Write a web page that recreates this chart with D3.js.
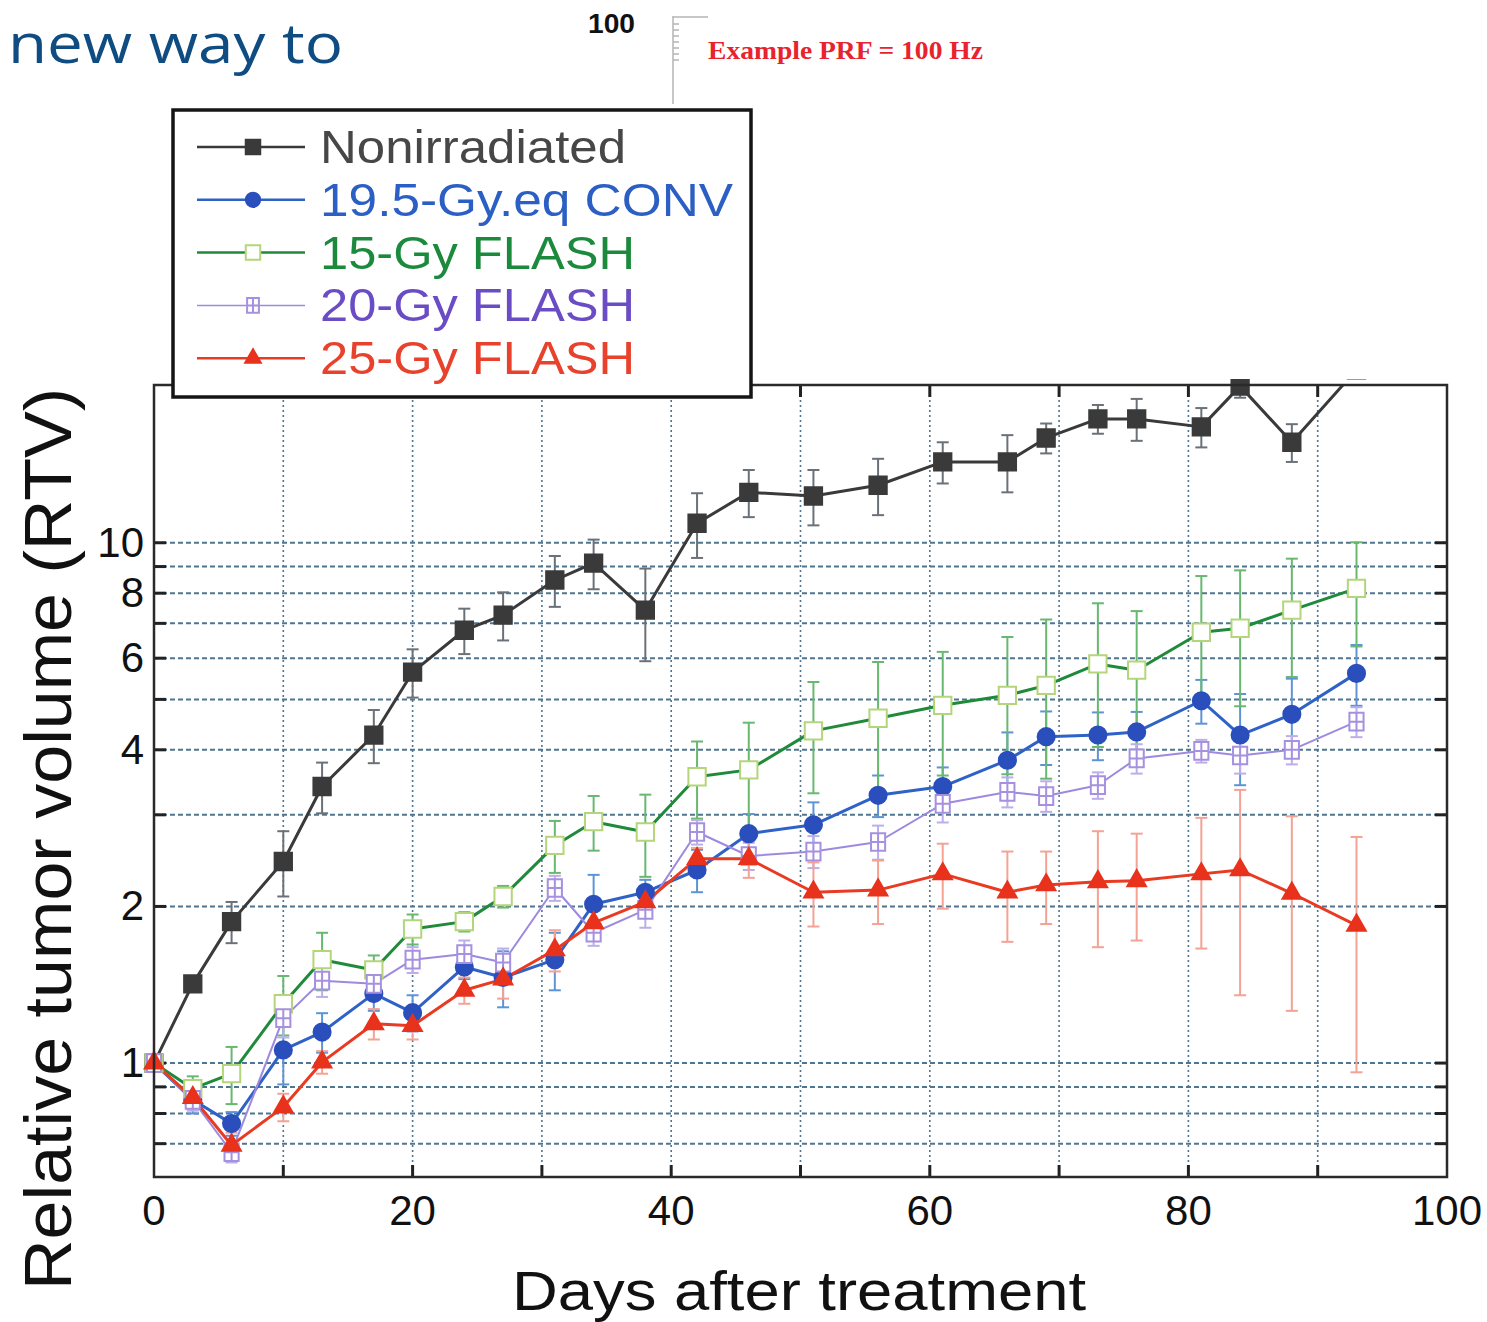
<!DOCTYPE html>
<html>
<head>
<meta charset="utf-8">
<script src="https://cdn.jsdelivr.net/npm/d3@7"></script>
<style>
  body { margin: 0; background: #fff; }
  svg { display: block; }
</style>
</head>
<body>
<div id="chart"></div>
<script>
// dados (dias após o tratamento, RTV média e erro)
const days = [0, 3, 6, 10, 13, 17, 20, 24, 27, 31, 34, 38, 42, 46, 51, 56, 61, 66, 69, 73, 76, 81, 84, 88, 93];

const nonirradiated = [1.0, 1.42, 1.87, 2.44, 3.40, 4.27, 5.64, 6.79, 7.26, 8.48, 9.14, 7.42, 10.9, 12.5, 12.3, 12.9, 14.3, 14.3, 15.9, 17.3, 17.3, 16.7, 20.0, 15.6, 21.5];
const nonirradiatedErr = [0, 0.05, 0.17, 0.35, 0.38, 0.5, 0.6, 0.68, 0.77, 0.95, 1.0, 1.5, 1.55, 1.3, 1.5, 1.6, 1.3, 1.8, 1.05, 1.1, 1.6, 1.45, 1.0, 1.3, 0.9];

const conv195 = [1.0, 0.85, 0.765, 1.06, 1.147, 1.36, 1.25, 1.53, 1.46, 1.58, 2.02, 2.13, 2.35, 2.76, 2.87, 3.27, 3.40, 3.82, 4.24, 4.27, 4.33, 4.97, 4.27, 4.68, 5.61];
const conv195Err = [0, 0.05, 0.04, 0.15, 0.1, 0.1, 0.1, 0.08, 0.18, 0.2, 0.28, 0.12, 0.22, 0.25, 0.3, 0.3, 0.3, 0.5, 0.5, 0.45, 0.4, 0.48, 0.85, 0.8, 0.75];

const flash15 = [1.0, 0.893, 0.954, 1.30, 1.58, 1.51, 1.81, 1.87, 2.09, 2.62, 2.91, 2.78, 3.55, 3.66, 4.35, 4.60, 4.87, 5.09, 5.32, 5.85, 5.69, 6.73, 6.85, 7.42, 8.17];
const flash15Err = [0, 0.05, 0.12, 0.17, 0.2, 0.1, 0.12, 0.08, 0.1, 0.3, 0.35, 0.5, 0.6, 0.85, 1.05, 1.3, 1.3, 1.5, 1.8, 1.8, 1.7, 1.9, 2.0, 1.9, 1.85];

const flash20 = [1.0, 0.85, 0.674, 1.22, 1.44, 1.42, 1.58, 1.62, 1.56, 2.17, 1.78, 1.97, 2.78, 2.50, 2.55, 2.66, 3.15, 3.32, 3.26, 3.42, 3.85, 3.98, 3.90, 4.00, 4.53];
const flash20Err = [0, 0.04, 0.03, 0.1, 0.1, 0.08, 0.09, 0.1, 0.1, 0.12, 0.1, 0.15, 0.15, 0.15, 0.18, 0.2, 0.25, 0.22, 0.22, 0.2, 0.25, 0.2, 0.3, 0.25, 0.3];

const flash25 = [1.0, 0.858, 0.695, 0.823, 1.004, 1.19, 1.18, 1.38, 1.45, 1.65, 1.86, 2.04, 2.47, 2.47, 2.13, 2.15, 2.31, 2.13, 2.20, 2.23, 2.24, 2.31, 2.35, 2.12, 1.84];
const flash25Err = [0, 0.04, 0.04, 0.05, 0.05, 0.08, 0.07, 0.08, 0.12, 0.15, 0.1, 0.1, 0.12, 0.2, 0.3, 0.3, 0.33, 0.42, 0.35, 0.56, 0.52, 0.65, 1.0, 0.86, 0.88];

const seriesNames = ["Nonirradiated", "19.5-Gy.eq CONV", "15-Gy FLASH", "20-Gy FLASH", "25-Gy FLASH"];
const xTicks = [0, 20, 40, 60, 80, 100];
const xGrid = [10, 20, 30, 40, 50, 60, 70, 80, 90];
const yTicks = [1, 2, 4, 6, 8, 10];
const yGrid = [0.7, 0.8, 0.9, 1, 2, 3, 4, 5, 6, 7, 8, 9, 10];

// marcador de quadrado com cruz (20-Gy FLASH)
const symbolBoxPlus = {
    draw(ctx, size) {
        const w = Math.sqrt(size) / 2, h = w * 1.25;
        ctx.moveTo(-w, -h); ctx.lineTo(w, -h); ctx.lineTo(w, h); ctx.lineTo(-w, h); ctx.closePath();
        ctx.moveTo(0, -h); ctx.lineTo(0, h);
        ctx.moveTo(-w, 0); ctx.lineTo(w, 0);
    }
};

const series = [
    { name: seriesNames[0], values: nonirradiated, err: nonirradiatedErr, line: "#3a3a3a", lw: 3, errColor: "#6b7178",
      text: "#474747", symbol: d3.symbolSquare, size: 300, fill: "#3a3a3a", stroke: "#3a3a3a" },
    { name: seriesNames[1], values: conv195, err: conv195Err, line: "#2f62c6", lw: 3, errColor: "#5d94d8",
      text: "#2b5fc4", symbol: d3.symbolCircle, size: 230, fill: "#2a4fbc", stroke: "#2a4fbc" },
    { name: seriesNames[2], values: flash15, err: flash15Err, line: "#1f8a3a", lw: 3, errColor: "#68b870",
      text: "#1c8a3c", symbol: d3.symbolSquare, size: 300, fill: "#fff", stroke: "#b4d57a" },
    { name: seriesNames[3], values: flash20, err: flash20Err, line: "#9d8ae0", lw: 2, errColor: "#bcaeea",
      text: "#6a4cc4", symbol: symbolBoxPlus, size: 200, fill: "#fff", stroke: "#a690e0" },
    { name: seriesNames[4], values: flash25, err: flash25Err, line: "#e93a22", lw: 3, errColor: "#f3a294",
      text: "#e8412c", symbol: d3.symbolTriangle, size: 150, fill: "#e8321c", stroke: "#e8321c" }
];

const width = 1487, height = 1322;
const plot = { left: 154, right: 1447, top: 385, bottom: 1177 };

const svg = d3.select("#chart").append("svg")
    .attr("width", width)
    .attr("height", height)
    .style("font-family", "'Liberation Sans', Arial, sans-serif");

const x = d3.scaleLinear().domain([0, 100]).range([plot.left, plot.right]);
const y = d3.scaleLog().domain([0.604, 20.1]).range([plot.bottom, plot.top]);

// ----- cabeçalho (restos do slide) -----
svg.append("text")
    .attr("x", 8).attr("y", 63)
    .attr("font-family", "'Open Sans', 'Noto Sans', sans-serif")
    .attr("font-size", 54)
    .attr("fill", "#0e4c82")
    .attr("textLength", 335).attr("lengthAdjust", "spacingAndGlyphs")
    .text("new way to");

svg.append("text")
    .attr("x", 588).attr("y", 33)
    .attr("font-size", 27).attr("font-weight", "bold")
    .attr("fill", "#111")
    .attr("textLength", 47).attr("lengthAdjust", "spacingAndGlyphs")
    .text("100");

const mini = svg.append("g").attr("stroke", "#b5b5b5").attr("stroke-width", 1.5);
mini.append("line").attr("x1", 673).attr("x2", 673).attr("y1", 16).attr("y2", 104);
mini.append("line").attr("x1", 673).attr("x2", 708).attr("y1", 17).attr("y2", 17);
d3.range(24, 66, 6).forEach(t => {
    mini.append("line").attr("x1", 673).attr("x2", 679).attr("y1", t).attr("y2", t);
});

svg.append("text")
    .attr("x", 708).attr("y", 59)
    .attr("font-family", "'Liberation Serif', 'DejaVu Serif', serif")
    .attr("font-size", 25).attr("font-weight", "bold")
    .attr("fill", "#e8232e")
    .attr("textLength", 275).attr("lengthAdjust", "spacingAndGlyphs")
    .text("Example PRF = 100 Hz");

// ----- grade -----
const grid = svg.append("g");
grid.selectAll("line.h")
    .data(yGrid)
    .join("line")
    .attr("class", "h")
    .attr("x1", plot.left).attr("x2", plot.right)
    .attr("y1", d => y(d)).attr("y2", d => y(d))
    .attr("stroke", "#4f7590")
    .attr("stroke-width", 2)
    .attr("stroke-dasharray", "5,3");

grid.selectAll("line.v")
    .data(xGrid)
    .join("line")
    .attr("class", "v")
    .attr("x1", d => x(d)).attr("x2", d => x(d))
    .attr("y1", plot.top).attr("y2", plot.bottom)
    .attr("stroke", "#4f7590")
    .attr("stroke-width", 1.6)
    .attr("stroke-dasharray", "2,3");

// ----- ticks internos -----
const ticks = svg.append("g").attr("stroke", "#222").attr("stroke-width", 3);
yGrid.forEach(v => {
    ticks.append("line").attr("x1", plot.left).attr("x2", plot.left + 12).attr("y1", y(v)).attr("y2", y(v));
    ticks.append("line").attr("x1", plot.right - 12).attr("x2", plot.right).attr("y1", y(v)).attr("y2", y(v));
});
xGrid.forEach(v => {
    ticks.append("line").attr("x1", x(v)).attr("x2", x(v)).attr("y1", plot.bottom).attr("y2", plot.bottom - 12);
    ticks.append("line").attr("x1", x(v)).attr("x2", x(v)).attr("y1", plot.top).attr("y2", plot.top + 12);
});

// ----- recorte da área do gráfico -----
svg.append("clipPath").attr("id", "clip-plot")
    .append("rect")
    .attr("x", plot.left).attr("y", plot.top)
    .attr("width", plot.right - plot.left).attr("height", plot.bottom - plot.top);

svg.append("clipPath").attr("id", "clip-marks")
    .append("rect")
    .attr("x", plot.left - 12).attr("y", plot.top - 6)
    .attr("width", plot.right - plot.left + 24).attr("height", plot.bottom - plot.top + 6);

const lineGen = d3.line()
    .x(d => x(d.day))
    .y(d => y(d.value));

const points = s => days.map((day, i) => ({ day, value: s.values[i], err: s.err[i] }));

// barras de erro
const errLayer = svg.append("g").attr("clip-path", "url(#clip-plot)");
series.forEach(s => {
    const g = errLayer.append("g").attr("stroke", s.errColor).attr("stroke-width", 2);
    const data = points(s).filter(d => d.err > 0);
    g.selectAll("line.bar").data(data).join("line")
        .attr("class", "bar")
        .attr("x1", d => x(d.day)).attr("x2", d => x(d.day))
        .attr("y1", d => y(d.value + d.err)).attr("y2", d => y(Math.max(d.value - d.err, 0.61)));
    g.selectAll("line.capTop").data(data).join("line")
        .attr("class", "capTop")
        .attr("x1", d => x(d.day) - 6).attr("x2", d => x(d.day) + 6)
        .attr("y1", d => y(d.value + d.err)).attr("y2", d => y(d.value + d.err));
    g.selectAll("line.capBot").data(data).join("line")
        .attr("class", "capBot")
        .attr("x1", d => x(d.day) - 6).attr("x2", d => x(d.day) + 6)
        .attr("y1", d => y(Math.max(d.value - d.err, 0.61))).attr("y2", d => y(Math.max(d.value - d.err, 0.61)));
});

// linhas
const lineLayer = svg.append("g").attr("clip-path", "url(#clip-plot)");
series.forEach(s => {
    lineLayer.append("path")
        .datum(points(s))
        .attr("fill", "none")
        .attr("stroke", s.line)
        .attr("stroke-width", s.lw)
        .attr("stroke-linejoin", "round")
        .attr("d", lineGen);
});

// marcadores
const markLayer = svg.append("g").attr("clip-path", "url(#clip-marks)");
series.forEach(s => {
    markLayer.append("g")
        .selectAll("path")
        .data(points(s))
        .join("path")
        .attr("transform", d => `translate(${x(d.day)},${y(d.value)})`)
        .attr("d", d3.symbol().type(s.symbol).size(s.size))
        .attr("fill", s.fill)
        .attr("stroke", s.stroke)
        .attr("stroke-width", 2);
});

// moldura
svg.append("rect")
    .attr("x", plot.left).attr("y", plot.top)
    .attr("width", plot.right - plot.left).attr("height", plot.bottom - plot.top)
    .attr("fill", "none")
    .attr("stroke", "#2a2a2a")
    .attr("stroke-width", 2.5);

// rótulos dos eixos
svg.append("g")
    .selectAll("text")
    .data(yTicks)
    .join("text")
    .attr("x", 144)
    .attr("y", d => y(d) + 14)
    .attr("text-anchor", "end")
    .attr("font-size", 42)
    .attr("fill", "#111")
    .text(d => d);

svg.append("g")
    .selectAll("text")
    .data(xTicks)
    .join("text")
    .attr("x", d => x(d))
    .attr("y", 1225)
    .attr("text-anchor", "middle")
    .attr("font-size", 42)
    .attr("fill", "#111")
    .text(d => d);

svg.append("text")
    .attr("x", 799).attr("y", 1310)
    .attr("text-anchor", "middle")
    .attr("font-size", 55)
    .attr("fill", "#111")
    .attr("textLength", 574).attr("lengthAdjust", "spacingAndGlyphs")
    .text("Days after treatment");

svg.append("text")
    .attr("transform", "translate(71,839) rotate(-90)")
    .attr("text-anchor", "middle")
    .attr("font-size", 66)
    .attr("fill", "#111")
    .attr("textLength", 902).attr("lengthAdjust", "spacingAndGlyphs")
    .text("Relative tumor volume (RTV)");

// ----- legenda -----
const legend = svg.append("g");
legend.append("rect")
    .attr("x", 173).attr("y", 110)
    .attr("width", 578).attr("height", 287)
    .attr("fill", "#fff")
    .attr("stroke", "#151515")
    .attr("stroke-width", 3.5);

const legendLen = [306, 413, 315, 315, 315];
const legendItem = legend.selectAll("g.item")
    .data(series)
    .join("g")
    .attr("class", "item")
    .attr("transform", (d, i) => `translate(0,${147 + i * 52.8})`);

legendItem.append("line")
    .attr("x1", 197).attr("x2", 305)
    .attr("stroke", d => d.line)
    .attr("stroke-width", d => d.lw - 0.5);

legendItem.append("path")
    .attr("transform", "translate(253,0)")
    .attr("d", d => d3.symbol().type(d.symbol).size(d.size * 0.7)())
    .attr("fill", d => d.fill)
    .attr("stroke", d => d.stroke)
    .attr("stroke-width", 2);

legendItem.append("text")
    .attr("x", 320).attr("y", 16)
    .attr("font-size", 47)
    .attr("fill", d => d.text)
    .attr("textLength", (d, i) => legendLen[i])
    .attr("lengthAdjust", "spacingAndGlyphs")
    .text(d => d.name);
</script>
</body>
</html>
